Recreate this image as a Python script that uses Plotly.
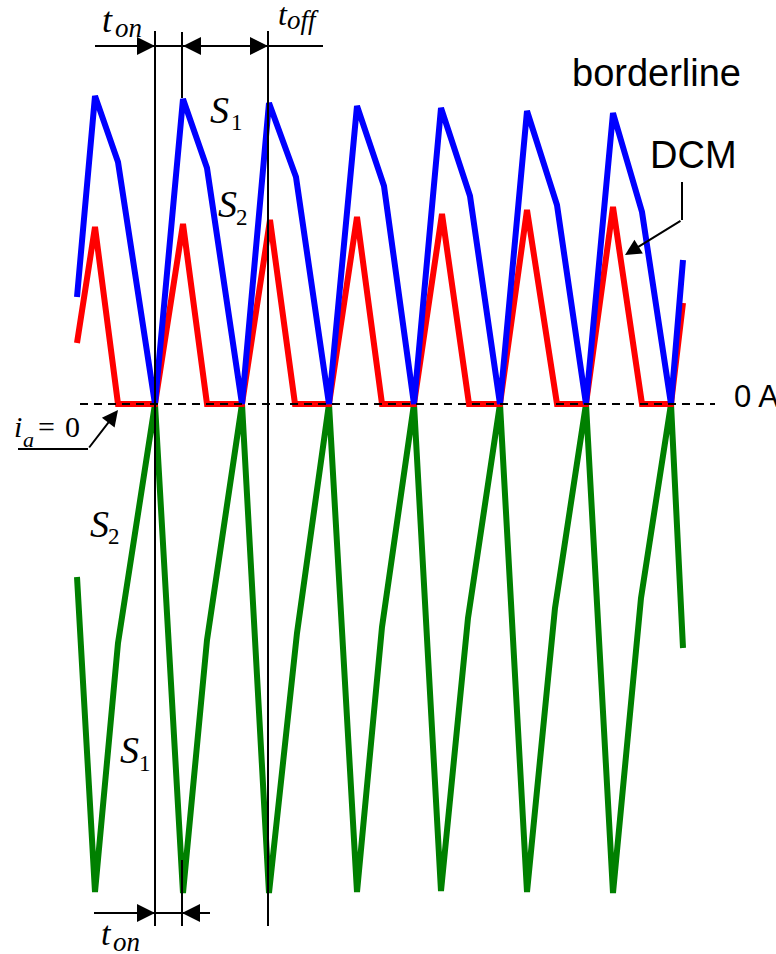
import plotly.graph_objects as go

# ---- data (diagram coordinates) ----
blue_x = [77, 95, 118, 155, 183, 207, 242, 269, 296, 329, 357, 384, 414, 441, 470, 500, 527, 557, 586, 613, 642, 671, 683]
blue_y = [297, 96, 162, 404, 99, 168, 404, 103, 177, 404, 106, 186, 404, 108, 196, 404, 111, 205, 404, 113, 212, 404, 260]

red_x = [77, 95, 118, 155, 183, 207, 242, 270, 295, 329, 357, 382, 414, 442, 469, 500, 527, 557, 586, 613, 642, 671, 683]
red_y = [343, 227, 404, 404, 224, 404, 404, 220, 404, 404, 217, 404, 404, 214, 404, 404, 210, 404, 404, 207, 404, 404, 303]

green_x = [77, 95, 118, 155, 183, 207, 242, 269, 297, 329, 357, 382, 414, 441, 468, 500, 527, 555, 586, 613, 641, 671, 683]
green_y = [577, 892, 643, 404, 893, 640, 404, 893, 633, 404, 892, 627, 404, 891, 618, 404, 892, 608, 404, 893, 598, 404, 648]

zero_level = 404
W, H = 776, 954

SERIF = "Liberation Serif, Times New Roman, serif"
SANS = "Liberation Sans, Arial, sans-serif"

fig = go.Figure()
fig.add_trace(go.Scatter(x=green_x, y=green_y, mode="lines", line=dict(color="#008000", width=6), hoverinfo="skip"))
fig.add_trace(go.Scatter(x=red_x, y=red_y, mode="lines", line=dict(color="#FF0000", width=6), hoverinfo="skip"))
fig.add_trace(go.Scatter(x=blue_x, y=blue_y, mode="lines", line=dict(color="#0000FF", width=6), hoverinfo="skip"))

shapes = []
def seg(x0, y0, x1, y1, w=2, dash=None):
    d = dict(type="line", x0=x0, y0=y0, x1=x1, y1=y1, xref="x", yref="y",
             line=dict(color="black", width=w), layer="above")
    if dash:
        d["line"]["dash"] = dash
    shapes.append(d)

# dashed zero line
seg(80, zero_level, 715, zero_level, w=2, dash="8px,6px")
# vertical timing lines
seg(155, 31, 155, 926)
seg(182, 32, 182, 98)
seg(182, 860, 182, 926)
seg(268, 31, 268, 926)
# horizontal dimension lines
seg(95, 46, 323, 46)
seg(94, 913, 210, 913)
# i_a underline
seg(18, 449, 88, 449)
# DCM leader vertical
seg(682, 182, 682, 220)

anns = []
def arrow(xt, yt, xh, yh, size=1.8):
    anns.append(dict(x=xh, y=yh, ax=xt, ay=yt, xref="x", yref="y", axref="x", ayref="y",
                     showarrow=True, arrowhead=2, arrowsize=size, arrowwidth=2,
                     arrowcolor="black", text=""))

arrow(130, 46, 155, 46)
arrow(208, 46, 183, 46)
arrow(243, 46, 268, 46)
arrow(130, 913, 155, 913)
arrow(205, 913, 182, 913)
arrow(88, 449, 118, 410, size=1.6)
arrow(682, 220, 625, 255, size=1.6)

def txt(x, base, s, size, family=SERIF, italic=False):
    anns.append(dict(x=x, y=base - 0.34 * size, xref="x", yref="y", text=s,
                     showarrow=False, xanchor="left", yanchor="middle",
                     font=dict(family=family, size=size, color="black",
                               style="italic" if italic else "normal")))

# t_on (top)
txt(100, 32, "t", 36, italic=True)
txt(113, 37, "on", 27, italic=True)
# t_off
txt(276, 25, "t", 32, italic=True)
txt(285, 29, "off", 27, italic=True)
# S1, S2 upper
txt(208, 123, "S", 38, italic=True)
txt(229, 130, "1", 23)
txt(216, 217, "S", 38, italic=True)
txt(234, 225, "2", 23)
# S2, S1 lower
txt(88, 537, "S", 38, italic=True)
txt(106, 544, "2", 23)
txt(118, 763, "S", 38, italic=True)
txt(137, 771, "1", 23)
# i_a = 0
txt(12, 437, "i", 30, italic=True)
txt(21, 447, "a", 22, italic=True)
txt(36, 437, "=", 30)
txt(63, 437, "0", 30)
# t_on (bottom)
txt(99, 945, "t", 34, italic=True)
txt(111, 951, "on", 27, italic=True)
# sans labels
txt(570, 86, "borderline", 38, family=SANS)
txt(648, 168, "DCM", 38, family=SANS)
txt(732, 407, "0 A", 31, family=SANS)

fig.update_layout(
    width=W, height=H, margin=dict(l=0, r=0, t=0, b=0),
    paper_bgcolor="white", plot_bgcolor="white", showlegend=False,
    xaxis=dict(range=[0, W], visible=False, fixedrange=True),
    yaxis=dict(range=[H, 0], visible=False, fixedrange=True),
    shapes=shapes, annotations=anns,
)
fig.write_html("out.html", config={"displayModeBar": False},
               post_script="document.body.style.margin='0';document.body.style.overflow='hidden';")
